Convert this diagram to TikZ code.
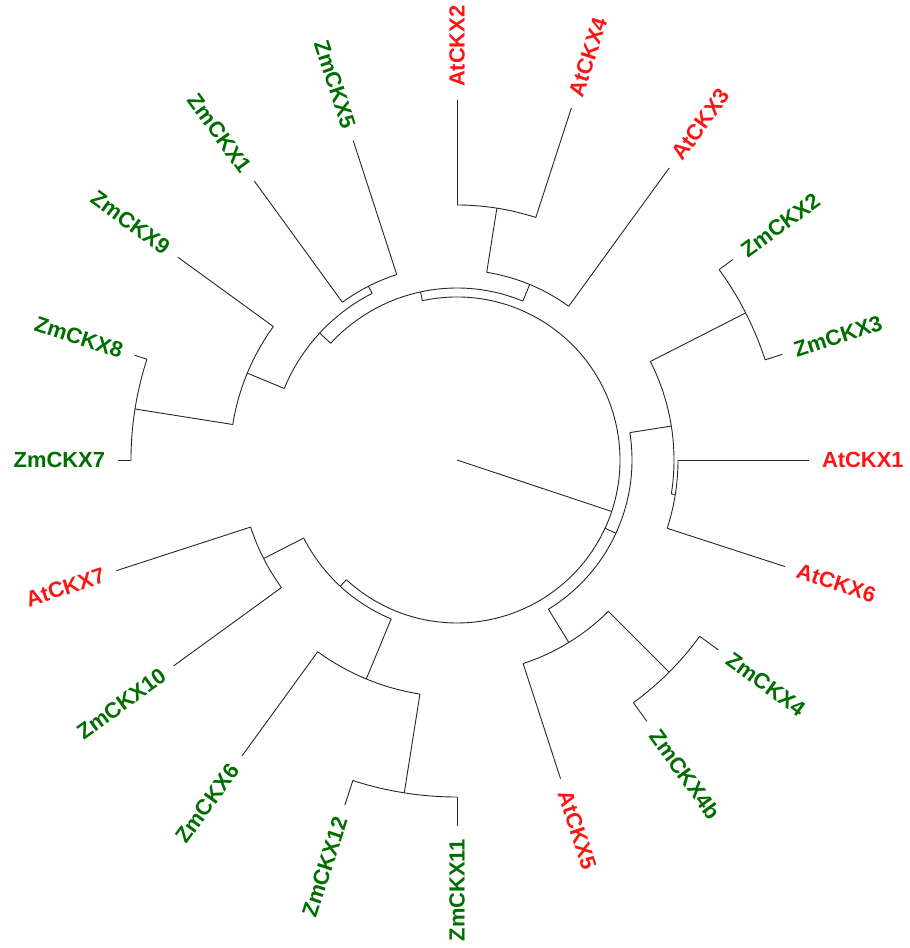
\documentclass[tikz,border=0pt]{standalone}
\usepackage{fontspec}
\setsansfont{Liberation Sans}
\usepackage{tikz}
\usetikzlibrary{calc}
\usepackage{xcolor}
\definecolor{rougeat}{RGB}{255,20,20}
\definecolor{vertzm}{RGB}{0,110,0}

% noeud interne : nom, angle, rayon, rayon du parent
\newcommand{\clade}[4]{%
  \coordinate (#1) at (#2:#3);
  \coordinate (#1-pied) at (#2:#4);
  \draw[branche] (#1-pied) -- (#1);}
% feuille a droite : nom, angle, rayon du bout, rayon du parent, style
\newcommand{\feuilleD}[5]{%
  \coordinate (#1-pied) at (#2:#4);
  \coordinate (#1-bout) at (#2:#3);
  \draw[branche] (#1-pied) -- (#1-bout);
  \node[#5, rotate=#2, anchor=west] (#1) at ({#2}:{#3+13}) {#1};}
% feuille a gauche
\newcommand{\feuilleG}[5]{%
  \coordinate (#1-pied) at (#2:#4);
  \coordinate (#1-bout) at (#2:#3);
  \draw[branche] (#1-pied) -- (#1-bout);
  \node[#5, rotate={#2+180}, anchor=east] (#1) at ({#2}:{#3+13}) {#1};}

\begin{document}
\begin{tikzpicture}[
    x=1bp, y=1bp,
    branche/.style={draw=black!85, line width=0.9bp},
    etiquette/.style={font=\sffamily\bfseries\fontsize{22}{24}\selectfont,
                      inner sep=0pt, outer sep=0pt},
    labAt/.style={etiquette, text=rougeat},
    labZm/.style={etiquette, text=vertzm}
]
\useasboundingbox (-457,-488) rectangle (453,460);

% --- Racine ---
\coordinate (o) at (0,0);
\coordinate (racine) at (-18.4:163);
\draw[branche] (o) -- (racine);

% ============================================================
%  TROIS CLADES DE LA RACINE
% ============================================================
\clade{K}{102.25}{172}{163}
\clade{X}{-24.75}{175}{163}
\clade{L}{-132.75}{172}{163}
\draw[branche] (K-pied) arc[start angle=102.25, end angle=-132.75, radius=163];

% ============================================================
%  CLADE K  (AtCKX2/3/4, ZmCKX1/5/7/8/9)
% ============================================================
\clade{G}{67.5}{190}{172}
\clade{M}{137.25}{187}{172}
\draw[branche] (G-pied) arc[start angle=67.5, end angle=137.25, radius=172];

\clade{G2}{81}{255}{190}
\feuilleD{AtCKX3}{54}{361}{190}{labAt}
\draw[branche] (AtCKX3-pied) arc[start angle=54, end angle=81, radius=190];
\feuilleD{AtCKX4}{72}{370}{255}{labAt}
\feuilleD{AtCKX2}{90}{360}{255}{labAt}
\draw[branche] (AtCKX4-pied) arc[start angle=72, end angle=90, radius=255];

\clade{F}{117}{195}{187}
\clade{P}{157.5}{227}{187}
\draw[branche] (F-pied) arc[start angle=117, end angle=157.5, radius=187];
\feuilleG{ZmCKX5}{108}{336}{195}{labZm}
\feuilleG{ZmCKX1}{126}{345}{195}{labZm}
\draw[branche] (ZmCKX5-pied) arc[start angle=108, end angle=126, radius=195];

\clade{E}{171}{326}{227}
\feuilleG{ZmCKX9}{144}{345}{227}{labZm}
\draw[branche] (ZmCKX9-pied) arc[start angle=144, end angle=171, radius=227];
\feuilleG{ZmCKX8}{162}{339}{326}{labZm}
\feuilleG{ZmCKX7}{180}{339}{326}{labZm}
\draw[branche] (ZmCKX8-pied) arc[start angle=162, end angle=180, radius=326];

% ============================================================
%  CLADE X  (ZmCKX2/3/4/4b, AtCKX1/5/6)
% ============================================================
\clade{Y}{9}{217}{175}
\clade{Z}{-58.5}{214}{175}
\draw[branche] (Z-pied) arc[start angle=-58.5, end angle=9, radius=175];

\clade{D}{27}{324}{217}
\clade{H}{-9}{221}{217}
\draw[branche] (H-pied) arc[start angle=-9, end angle=27, radius=217];
\feuilleD{ZmCKX3}{18}{342}{324}{labZm}
\feuilleD{ZmCKX2}{36}{341}{324}{labZm}
\draw[branche] (ZmCKX3-pied) arc[start angle=18, end angle=36, radius=324];
\feuilleD{AtCKX6}{-18}{345}{221}{labAt}
\feuilleD{AtCKX1}{0}{352}{221}{labAt}
\draw[branche] (AtCKX6-pied) arc[start angle=-18, end angle=0, radius=221];

\clade{W}{-45}{300}{214}
\feuilleD{AtCKX5}{-72}{335}{214}{labAt}
\draw[branche] (AtCKX5-pied) arc[start angle=-72, end angle=-45, radius=214];
\feuilleD{ZmCKX4b}{-54}{323}{300}{labZm}
\feuilleD{ZmCKX4}{-36}{323}{300}{labZm}
\draw[branche] (ZmCKX4b-pied) arc[start angle=-54, end angle=-36, radius=300];

% ============================================================
%  CLADE L  (AtCKX7, ZmCKX6/10/11/12)
% ============================================================
\clade{T}{-153}{217}{172}
\clade{N}{-112.5}{237}{172}
\draw[branche] (T-pied) arc[start angle=-153, end angle=-112.5, radius=172];

\feuilleG{AtCKX7}{-162}{358}{217}{labAt}
\feuilleG{ZmCKX10}{-144}{350}{217}{labZm}
\draw[branche] (AtCKX7-pied) arc[start angle=-162, end angle=-144, radius=217];

\clade{S}{-99}{337}{237}
\feuilleG{ZmCKX6}{-126}{366}{237}{labZm}
\draw[branche] (ZmCKX6-pied) arc[start angle=-126, end angle=-99, radius=237];
\feuilleG{ZmCKX12}{-108}{363}{337}{labZm}
\feuilleG{ZmCKX11}{-90}{366}{337}{labZm}
\draw[branche] (ZmCKX12-pied) arc[start angle=-108, end angle=-90, radius=337];

\end{tikzpicture}
\end{document}
